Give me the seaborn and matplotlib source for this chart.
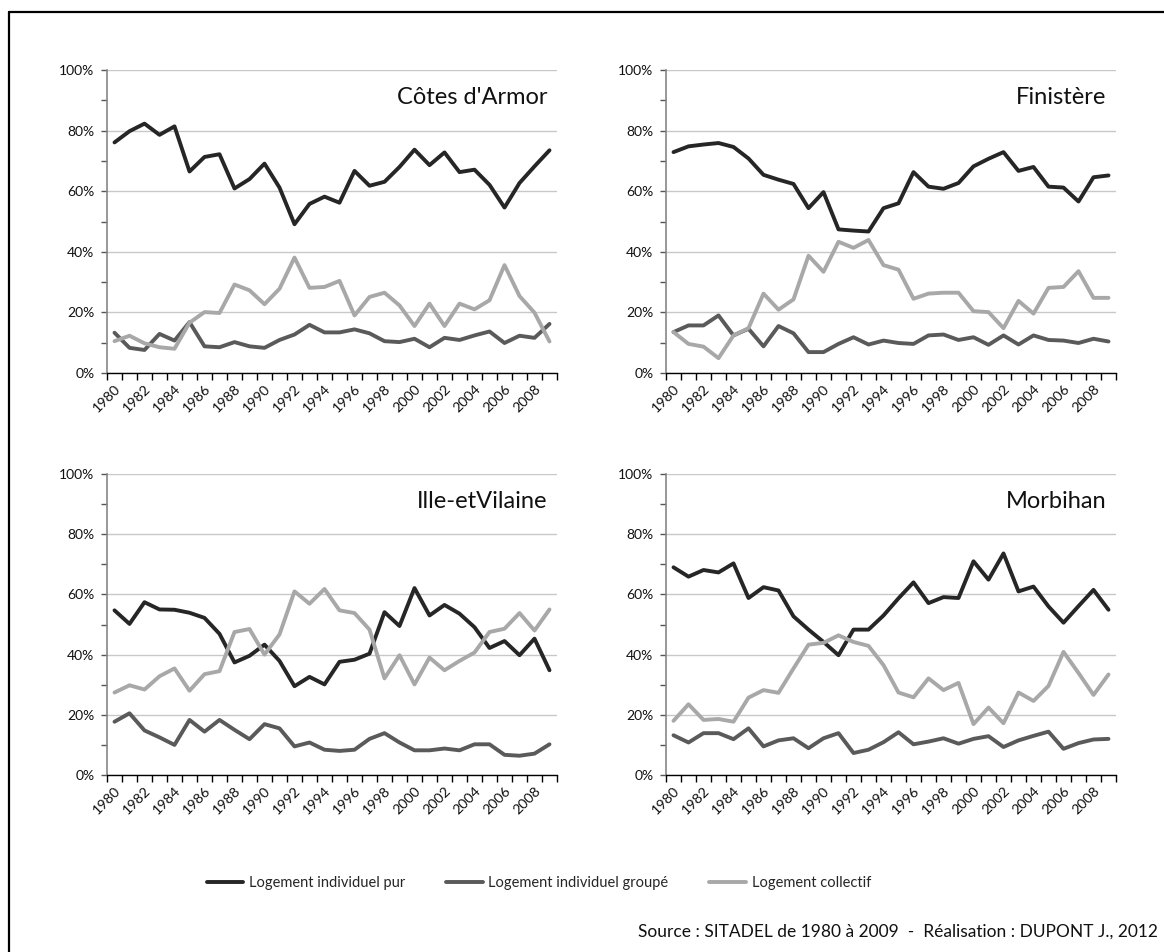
import numpy as np
import pandas as pd
import seaborn as sns
from matplotlib import pyplot as plt
from matplotlib.lines import Line2D
from matplotlib.ticker import FixedLocator, FuncFormatter

years = list(range(1980, 2010))
series_names = ['Logement individuel pur', 'Logement individuel groupé', 'Logement collectif']
colors = ['#262626', '#5a5a5a', '#a8a8a8']

cotes_pur = [76.1, 79.8, 82.3, 78.6, 81.4, 66.5, 71.3, 72.2, 60.9, 64.0, 69.1, 61.2, 49.1, 55.8, 58.2,
             56.2, 66.7, 61.8, 63.1, 68.0, 73.7, 68.6, 72.8, 66.3, 67.1, 62.1, 54.6, 62.7, 68.2, 73.5]
cotes_groupe = [13.3, 8.3, 7.6, 12.9, 10.7, 16.8, 8.8, 8.5, 10.2, 8.8, 8.3, 10.9, 12.7, 15.9, 13.4,
                13.4, 14.4, 13.1, 10.5, 10.2, 11.3, 8.5, 11.6, 10.9, 12.4, 13.7, 9.9, 12.3, 11.6, 16.2]
cotes_coll = [10.5, 12.3, 9.8, 8.5, 8.0, 16.6, 20.1, 19.8, 29.2, 27.3, 22.7, 27.8, 38.1, 28.1, 28.4,
              30.4, 19.0, 25.1, 26.5, 22.3, 15.5, 22.9, 15.5, 22.9, 21.0, 24.0, 35.6, 25.4, 19.9, 10.4]

fini_pur = [72.9, 74.8, 75.4, 75.9, 74.6, 70.8, 65.4, 63.8, 62.4, 54.4, 59.7, 47.4, 47.0, 46.7, 54.4,
            56.0, 66.3, 61.5, 60.8, 62.7, 68.2, 70.7, 72.9, 66.7, 68.0, 61.5, 61.2, 56.6, 64.6, 65.2]
fini_groupe = [13.5, 15.7, 15.7, 19.0, 12.4, 14.6, 8.8, 15.5, 13.1, 6.9, 6.9, 9.6, 11.8, 9.4, 10.7,
               9.9, 9.6, 12.4, 12.7, 10.9, 11.8, 9.3, 12.4, 9.4, 12.4, 10.9, 10.7, 9.9, 11.3, 10.4]
fini_coll = [13.5, 9.6, 8.7, 4.9, 12.4, 14.8, 26.2, 20.9, 24.3, 38.7, 33.4, 43.3, 41.3, 43.9, 35.6,
             34.1, 24.5, 26.2, 26.5, 26.5, 20.4, 20.1, 14.8, 23.8, 19.6, 28.1, 28.4, 33.6, 24.8, 24.8]

ille_pur = [54.7, 50.2, 57.4, 55.0, 54.9, 53.9, 52.2, 46.9, 37.4, 39.6, 43.3, 37.9, 29.5, 32.6, 30.1,
            37.6, 38.3, 40.3, 54.1, 49.5, 62.1, 53.0, 56.5, 53.6, 49.1, 42.2, 44.5, 39.8, 45.3, 34.8]
ille_groupe = [17.7, 20.5, 14.8, 12.5, 10.0, 18.3, 14.4, 18.3, 15.0, 11.9, 16.9, 15.5, 9.5, 10.8, 8.4,
               8.0, 8.4, 12.0, 13.9, 10.8, 8.2, 8.2, 8.8, 8.2, 10.2, 10.2, 6.7, 6.4, 7.1, 10.2]
ille_coll = [27.4, 29.8, 28.4, 32.8, 35.4, 28.0, 33.5, 34.5, 47.5, 48.5, 40.0, 46.7, 61.0, 56.9, 61.8,
             54.7, 53.8, 48.3, 32.1, 39.8, 30.1, 39.0, 34.8, 37.9, 40.7, 47.5, 48.6, 53.8, 48.0, 55.0]

morb_pur = [69.0, 65.9, 68.1, 67.3, 70.3, 58.8, 62.4, 61.3, 52.7, 48.3, 44.2, 39.8, 48.3, 48.3, 53.0,
            58.7, 64.0, 57.1, 59.1, 58.8, 71.0, 64.9, 73.6, 61.0, 62.6, 56.0, 50.6, 56.1, 61.5, 54.9]
morb_groupe = [13.2, 10.8, 13.9, 13.9, 11.9, 15.5, 9.5, 11.5, 12.2, 8.9, 12.2, 13.9, 7.3, 8.4, 10.9,
               14.2, 10.2, 11.1, 12.2, 10.4, 12.0, 12.9, 9.3, 11.5, 13.0, 14.4, 8.7, 10.6, 11.8, 12.0]
morb_coll = [18.0, 23.5, 18.3, 18.6, 17.7, 25.7, 28.2, 27.3, 35.4, 43.3, 43.9, 46.4, 44.2, 42.9, 36.5,
             27.4, 25.8, 32.1, 28.2, 30.6, 16.9, 22.4, 17.2, 27.4, 24.6, 29.6, 40.9, 33.9, 26.6, 33.4]

departements = {
    "Côtes d'Armor": [cotes_pur, cotes_groupe, cotes_coll],
    'Finistère': [fini_pur, fini_groupe, fini_coll],
    'Ille-etVilaine': [ille_pur, ille_groupe, ille_coll],
    'Morbihan': [morb_pur, morb_groupe, morb_coll],
}

FONT = ['Lato', 'DejaVu Sans']

sns.set_style('white')
plt.rcParams['font.family'] = FONT
plt.rcParams['axes.unicode_minus'] = False

fig = plt.figure(figsize=(11.64, 9.52), dpi=100)

W, H = 1164, 952
# left, top, right, bottom in pixels
boxes = [(107, 70, 557, 373), (666, 70, 1116, 373),
         (107, 474, 557, 775), (666, 474, 1116, 775)]


def make_df(values):
    rows = []
    for name, vals in zip(series_names, values):
        for y, v in zip(years, vals):
            rows.append({'annee': y, 'part': v, 'type': name})
    return pd.DataFrame(rows)


def style_axes(ax):
    ax.set_xlim(1979.5, 2009.5)
    ax.set_ylim(0, 100)
    ax.set_xlabel('')
    ax.set_ylabel('')
    for s in ['top', 'right']:
        ax.spines[s].set_visible(False)
    ax.spines['left'].set_color('#868686')
    ax.spines['left'].set_linewidth(1.2)
    ax.spines['bottom'].set_color('#000000')
    ax.spines['bottom'].set_linewidth(1.0)

    ax.yaxis.set_major_locator(FixedLocator(np.arange(0, 101, 20)))
    ax.yaxis.set_minor_locator(FixedLocator(np.arange(10, 100, 20)))
    ax.yaxis.set_major_formatter(FuncFormatter(lambda v, p: f'{v:.0f}%'))
    ax.tick_params(axis='y', which='both', left=True, direction='out', length=4,
                   width=1, color='#555555', pad=5, labelsize=10, labelcolor='#111111')
    ax.grid(axis='y', which='major', color='#c8c8c8', linewidth=1)
    ax.grid(axis='x', visible=False)

    # ticks between categories, labels on every other year
    ax.xaxis.set_major_locator(FixedLocator(np.arange(1979.5, 2010, 1)))
    ax.xaxis.set_major_formatter(FuncFormatter(lambda v, p: ''))
    ax.xaxis.set_minor_locator(FixedLocator(years[::2]))
    ax.xaxis.set_minor_formatter(FuncFormatter(lambda v, p: f'{v:.0f}'))
    ax.tick_params(axis='x', which='major', bottom=True, direction='out', length=5,
                   width=1, color='#000000')
    ax.tick_params(axis='x', which='minor', bottom=True, length=0, pad=7,
                   labelsize=10.3, labelcolor='#111111')
    for lab in ax.get_xticklabels(minor=True):
        lab.set_rotation(45)
        lab.set_ha('right')
        lab.set_rotation_mode('anchor')


for (name, values), (x0, y0, x1, y1) in zip(departements.items(), boxes):
    ax = fig.add_axes([x0 / W, 1 - y1 / H, (x1 - x0) / W, (y1 - y0) / H])
    df = make_df(values)
    sns.lineplot(data=df, x='annee', y='part', hue='type', palette=colors,
                 hue_order=series_names, linewidth=2.8, legend=False, ax=ax,
                 solid_joinstyle='round')
    style_axes(ax)
    ax.text(0.978, 0.91, name, transform=ax.transAxes, ha='right', va='center',
            fontsize=17, color='#111111')

handles = [Line2D([], [], color=c, linewidth=2.8) for c in colors]
fig.legend(handles, series_names, loc='center', bbox_to_anchor=(0.463, 1 - 883 / H),
           ncol=3, frameon=False, fontsize=10.5, handlelength=2.5, handletextpad=0.4,
           columnspacing=2.8)

fig.text(1158 / W, 1 - 932 / H,
         'Source : SITADEL de 1980 à 2009  -  Réalisation : DUPONT J., 2012',
         ha='right', va='center', fontsize=12.5, color='#111111')

# outer frame (left and top edges visible)
fig.add_artist(Line2D([8.5 / W, 8.5 / W], [0, 1 - 12 / H], color='black', linewidth=1.6,
                      transform=fig.transFigure))
fig.add_artist(Line2D([8.5 / W, 1], [1 - 12 / H, 1 - 12 / H], color='black', linewidth=1.6,
                      transform=fig.transFigure))

fig.savefig('out.png', dpi=100, facecolor='white')
